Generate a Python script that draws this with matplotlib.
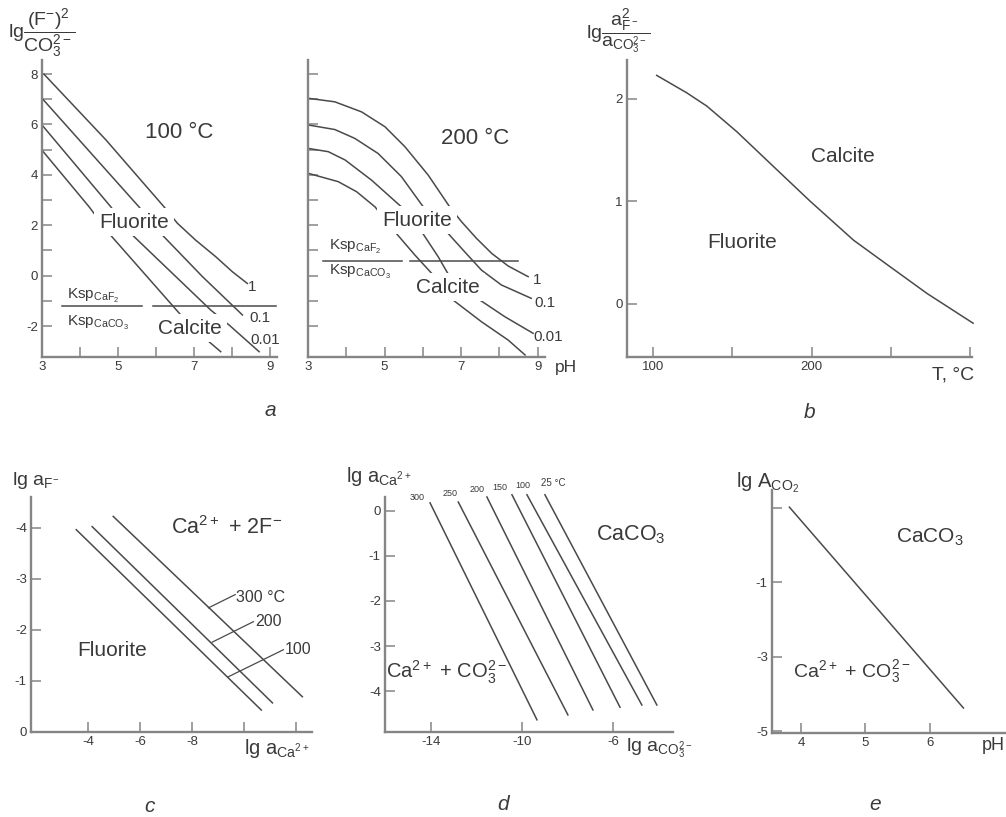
import numpy as np
import matplotlib
matplotlib.use("Agg")
import matplotlib.pyplot as plt

W, H = 1006, 817
INK = "#3a3a3a"; CURVE = "#4a4a4a"; AXIS = "#858585"

plt.rcParams["font.family"] = ["Liberation Sans", "DejaVu Sans"]
plt.rcParams["mathtext.default"] = "regular"
plt.rcParams["axes.unicode_minus"] = False

# ── data ──────────────────────────────────────────────────────────────────────
# (a) lg (F-)^2/CO3^2- vs pH, one curve per F- activity
A_CURVE_LABELS = ["1", "0.1", "0.01", ""]

A100_PH = [
    [3.05, 4.68, 6.21, 6.56, 7.04, 7.57, 8.01, 8.40],
    [3.00, 5.55, 6.12, 7.22, 8.27],
    [3.00, 4.81, 5.33, 7.44, 7.92, 8.71],
    [3.00, 4.24, 4.76, 6.69, 7.39, 7.70],
]
A100_LG = [
    [8.00, 5.39, 2.73, 2.08, 1.41, 0.75, 0.15, -0.31],
    [7.04, 2.73, 1.68, -0.04, -1.56],
    [5.98, 2.73, 1.68, -1.37, -1.96, -3.02],
    [4.98, 2.73, 1.68, -1.63, -2.62, -3.02],
]
A100_KSP = -1.22

A200_PH = [
    [3.01, 3.70, 4.40, 5.01, 5.53, 6.14, 6.70, 7.01, 7.40, 7.80, 8.23, 8.75],
    [3.01, 3.70, 4.22, 4.83, 5.44, 6.01, 6.62, 7.09, 7.53, 8.05, 8.83],
    [3.01, 3.53, 3.97, 4.66, 5.44, 5.97, 6.40, 6.75, 7.49, 8.14, 8.88],
    [3.01, 3.79, 4.27, 4.75, 5.27, 5.79, 6.23, 6.79, 7.53, 8.23, 8.67],
]
A200_LG = [
    [7.04, 6.90, 6.50, 5.91, 5.12, 3.99, 2.73, 2.14, 1.48, 0.88, 0.38, -0.04],
    [5.98, 5.80, 5.45, 4.85, 3.93, 2.73, 1.74, 0.95, 0.22, -0.37, -0.90],
    [5.05, 4.92, 4.59, 3.79, 2.73, 1.74, 0.75, -0.17, -0.97, -1.63, -2.29],
    [4.06, 3.73, 3.33, 2.73, 1.74, 0.82, 0.09, -0.97, -1.83, -2.56, -3.15],
]
A200_KSP = 0.58

# (b) boundary fluorite / calcite vs temperature
B_T = [102.3, 121.2, 133.9, 152.8, 175.9, 199.1, 226.4, 249.5, 272.7, 301.7]
B_LG = [2.23, 2.06, 1.93, 1.68, 1.34, 1.00, 0.62, 0.36, 0.10, -0.19]

# (c) fluorite solubility lines, lg aF- vs lg aCa2+
C_T = ["100", "200", "300 °C"]
C_CA = [[-3.54, -10.65], [-4.15, -11.08], [-4.96, -12.23]]
C_F = [[-3.96, -0.43], [-4.02, -0.57], [-4.22, -0.69]]

# (d) calcite solubility lines, lg aCa2+ vs lg aCO3 2-
D_T = ["300", "250", "200", "150", "100", "25 °C"]
D_CO3 = [[-14.04, -9.34], [-12.80, -7.98], [-11.54, -6.88],
         [-10.44, -5.69], [-9.78, -4.73], [-8.99, -4.07]]
D_CA = [[0.18, -4.64], [0.20, -4.53], [0.31, -4.42],
        [0.36, -4.36], [0.36, -4.31], [0.36, -4.31]]

# (e) lg A_CO2 vs pH
E_PH = [3.82, 6.52]
E_LG = [1.01, -4.38]

# ── helpers ───────────────────────────────────────────────────────────────────
fig = plt.figure(figsize=(W / 100, H / 100), dpi=100, facecolor="white")

def new_ax(l, t, r, b):
    ax = fig.add_axes([l / W, 1 - b / H, (r - l) / W, (b - t) / H])
    ax.patch.set_alpha(0)
    for s in ("top", "right"):
        ax.spines[s].set_visible(False)
    for s in ("left", "bottom"):
        ax.spines[s].set_color(AXIS)
        ax.spines[s].set_linewidth(1.7)
    ax.tick_params(direction="in", length=7, width=1.1, color=AXIS,
                   labelsize=9.5, labelcolor=INK, pad=3)
    return ax

def put(x, y, s, size=15, ha="center", va="center", box=False, **kw):
    bb = dict(facecolor="white", edgecolor="none", pad=3.5) if box else None
    fig.text(x / W, 1 - y / H, s, fontsize=size, ha=ha, va=va, color=INK,
             bbox=bb, **kw)

def curve(ax, x, y):
    ax.plot(x, y, color=CURVE, lw=1.1, clip_on=False)

def ticks(ax, xt, xl, yt, yl):
    ax.set_xticks(xt); ax.set_xticklabels(xl)
    ax.set_yticks(yt); ax.set_yticklabels(yl)

# ── (a) 100 °C ────────────────────────────────────────────────────────────────
a1 = new_ax(42, 60, 277, 357)
a1.set_xlim(3, 9.18); a1.set_ylim(-3.23, 8.56)
ticks(a1, range(3, 10), ["3", "", "5", "", "7", "", "9"],
      range(-2, 9), [str(v) if v % 2 == 0 else "" for v in range(-2, 9)])
for xs, ys in zip(A100_PH, A100_LG):
    curve(a1, xs, ys)
a1.plot([3.52, 5.62], [A100_KSP] * 2, color=CURVE, lw=1.1)
a1.plot([5.91, 9.15], [A100_KSP] * 2, color=CURVE, lw=1.1)

put(179, 133, "100 °C", size=16)
put(134, 222, "Fluorite", box=True)
put(190, 328, "Calcite", box=True)
put(67, 296, "Ksp$_{CaF_2}$", size=11, ha="left")
put(67, 323, "Ksp$_{CaCO_3}$", size=11, ha="left")
for (x, y), s in zip([(252, 287), (260, 318), (265, 340)], A_CURVE_LABELS):
    put(x, y, s, size=11)
put(8, 33, r"lg$\dfrac{(F^{-})^{2}}{CO_3^{2-}}$", size=14, ha="left")

# ── (a) 200 °C ────────────────────────────────────────────────────────────────
a2 = new_ax(308, 60, 545, 357)
a2.set_xlim(3, 9.19); a2.set_ylim(-3.23, 8.56)
ticks(a2, range(3, 10), ["3", "", "5", "", "7", "", "9"],
      range(-2, 9), [""] * 11)
for xs, ys in zip(A200_PH, A200_LG):
    curve(a2, xs, ys)
a2.plot([3.39, 5.45], [A200_KSP] * 2, color=CURVE, lw=1.1)
a2.plot([5.66, 8.48], [A200_KSP] * 2, color=CURVE, lw=1.1)

put(475, 138, "200 °C", size=16)
put(417, 220, "Fluorite", box=True)
put(448, 287, "Calcite", box=True)
put(329, 247, "Ksp$_{CaF_2}$", size=11, ha="left")
put(329, 272, "Ksp$_{CaCO_3}$", size=11, ha="left")
for (x, y), s in zip([(537, 280), (545, 303), (548, 337)], A_CURVE_LABELS):
    put(x, y, s, size=11)
put(555, 367, "pH", size=12.5, ha="left")
put(270, 410, "a", size=15, style="italic")

# ── (b) ───────────────────────────────────────────────────────────────────────
b = new_ax(627, 60, 972, 357)
b.set_xlim(83.6, 301); b.set_ylim(-0.52, 2.38)
ticks(b, [100, 150, 200, 250, 300], ["100", "", "200", "", ""],
      [0, 1, 2], ["0", "1", "2"])
curve(b, B_T, B_LG)
put(843, 157, "Calcite")
put(742, 242, "Fluorite")
put(586, 31, r"lg$\dfrac{a_{F^-}^{2}}{a_{CO_3^{2-}}}$", size=14, ha="left")
put(953, 375, "T, °C", size=14)
put(810, 412, "b", size=15, style="italic")

# ── (c) ───────────────────────────────────────────────────────────────────────
c = new_ax(31, 497, 312, 732)
c.set_xlim(-1.8, -12.6); c.set_ylim(0, -4.6)
ticks(c, [-4, -6, -8, -10, -12], ["-4", "-6", "-8", "", ""],
      [0, -1, -2, -3, -4], ["0", "-1", "-2", "-3", "-4"])
for xs, ys in zip(C_CA, C_F):
    curve(c, xs, ys)
# leaders from each line to its temperature label
c.plot([-9.38, -11.50], [-1.08, -1.61], color=CURVE, lw=0.9, clip_on=False)
c.plot([-8.77, -10.35], [-1.76, -2.16], color=CURVE, lw=0.9, clip_on=False)
c.plot([-8.62, -9.65], [-2.43, -2.69], color=CURVE, lw=0.9, clip_on=False)
for (x, y), s in zip([(285, 650), (255, 622), (236, 597)], C_T):
    put(x, y, s, size=11.5, ha="left")
put(227, 528, "Ca$^{2+}$ + 2F$^{\u2212}$", size=15.5)
put(112, 650, "Fluorite")
put(12, 481, "lg a$_{F^{-}}$", size=14, ha="left")
put(244, 748, "lg a$_{Ca^{2+}}$", size=14.5, ha="left")
put(150, 806, "c", size=15, style="italic")

# ── (d) ───────────────────────────────────────────────────────────────────────
d = new_ax(385, 497, 673, 732)
d.set_xlim(-16.02, -3.36); d.set_ylim(-4.91, 0.31)
ticks(d, [-14, -10, -6], ["-14", "-10", "-6"],
      [0, -1, -2, -3, -4], ["0", "-1", "-2", "-3", "-4"])
for xs, ys in zip(D_CO3, D_CA):
    curve(d, xs, ys)
for (x, y), s in zip([(417, 497), (450, 493), (477, 489), (500, 487),
                      (523, 486)], D_T[:-1]):
    put(x, y, s, size=6.5)
put(541, 483, D_T[-1], size=7, ha="left")
put(631, 535, "CaCO$_3$", size=15.5)
put(447, 672, "Ca$^{2+}$ + CO$_3^{2\u2212}$", size=14.5)
put(346, 476, "lg a$_{Ca^{2+}}$", size=14.5, ha="left")
put(626, 748, "lg a$_{CO_3^{2-}}$", size=14, ha="left")
put(503, 805, "d", size=15, style="italic")

# ── (e) ───────────────────────────────────────────────────────────────────────
e = new_ax(772, 490, 1006, 733)
e.set_xlim(3.55, 7.18); e.set_ylim(-5.05, 1.47)
ticks(e, [4, 5, 6], ["4", "5", "6"], [1, -1, -3, -5], ["", "-1", "-3", "-5"])
curve(e, E_PH, E_LG)
put(930, 537, "CaCO$_3$", size=15)
put(852, 672, "Ca$^{2+}$ + CO$_3^{2\u2212}$", size=14)
put(736, 483, "lg A$_{CO_2}$", size=14.5, ha="left")
put(982, 746, "pH", size=13, ha="left")
put(875, 805, "e", size=15, style="italic")

fig.savefig("out.png", dpi=100, facecolor="white")
